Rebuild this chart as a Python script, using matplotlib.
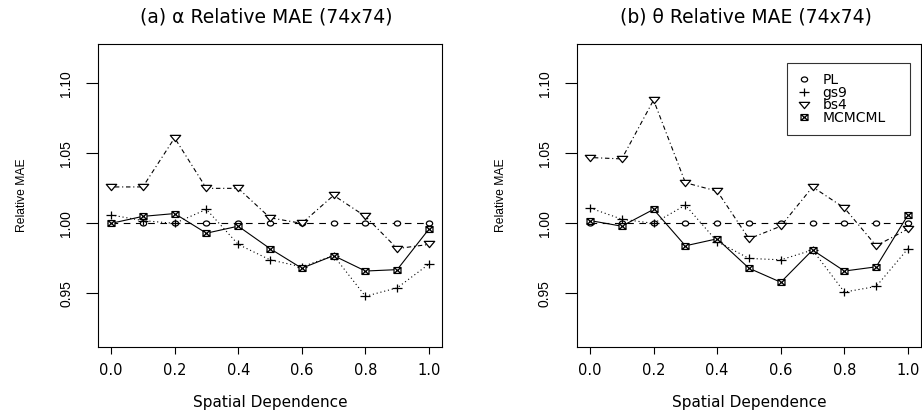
import matplotlib
matplotlib.use('Agg')
import matplotlib.pyplot as plt
from matplotlib.path import Path

plt.rcParams['font.family'] = ['DejaVu Sans']

# Dados
dependencia = [0.0, 0.1, 0.2, 0.3, 0.4, 0.5, 0.6, 0.7, 0.8, 0.9, 1.0]

alpha_pl = [1.0] * 11
alpha_gs9 = [1.006, 1.002, 1.000, 1.010, 0.985, 0.974, 0.969, 0.977, 0.948, 0.954, 0.971]
alpha_bs4 = [1.026, 1.026, 1.061, 1.025, 1.025, 1.004, 1.000, 1.020, 1.005, 0.982, 0.985]
alpha_mcmcml = [1.000, 1.005, 1.007, 0.993, 0.998, 0.982, 0.968, 0.977, 0.966, 0.967, 0.996]

theta_pl = [1.0] * 11
theta_gs9 = [1.011, 1.003, 1.000, 1.013, 0.987, 0.975, 0.974, 0.981, 0.951, 0.955, 0.982]
theta_bs4 = [1.047, 1.046, 1.088, 1.029, 1.023, 0.989, 0.998, 1.026, 1.011, 0.984, 0.996]
theta_mcmcml = [1.002, 0.998, 1.010, 0.984, 0.989, 0.968, 0.958, 0.981, 0.966, 0.969, 1.006]

metodos = ['PL', 'gs9', 'bs4', 'MCMCML']

# marcadores um pouco achatados, como no grafico original
circulo = Path.unit_circle().transformed(matplotlib.transforms.Affine2D().scale(1, 0.8))
mais = Path([(-1, 0), (1, 0), (0, -0.9), (0, 0.9)],
            [Path.MOVETO, Path.LINETO, Path.MOVETO, Path.LINETO])
triangulo = Path([(-1, 0.6), (1, 0.6), (0, -0.6), (-1, 0.6)],
                 [Path.MOVETO, Path.LINETO, Path.LINETO, Path.CLOSEPOLY])
quadrado_x = Path(
    [(-1, -0.85), (1, -0.85), (1, 0.85), (-1, 0.85), (-1, -0.85),
     (-1, -0.85), (1, 0.85), (-1, 0.85), (1, -0.85)],
    [Path.MOVETO, Path.LINETO, Path.LINETO, Path.LINETO, Path.CLOSEPOLY,
     Path.MOVETO, Path.LINETO, Path.MOVETO, Path.LINETO])

estilos = {
    'PL': dict(marker=circulo, ms=4.5, dashes=(6, 5)),
    'gs9': dict(marker=mais, ms=6.5, dashes=(1, 2.5)),
    'bs4': dict(marker=triangulo, ms=7.5, dashes=(1, 2.5, 4, 2.5)),
    'MCMCML': dict(marker=quadrado_x, ms=5, dashes=None),
}

fig = plt.figure(figsize=(9.22, 4.13), dpi=100)
ax1 = fig.add_axes([0.1066, 0.1605, 0.3725, 0.733])
ax2 = fig.add_axes([0.6261, 0.1605, 0.3725, 0.733])


def painel(ax, series, titulo, legenda=False):
    # linhas primeiro, depois os pontos com fundo branco (tipo "b" do R)
    for nome, y in zip(metodos, series):
        e = estilos[nome]
        linha, = ax.plot(dependencia, y, color='black', lw=0.8, zorder=2)
        if e['dashes'] is not None:
            linha.set_dashes(e['dashes'])
    handles = []
    for k, (nome, y) in enumerate(zip(metodos, series)):
        e = estilos[nome]
        h, = ax.plot(dependencia, y, linestyle='none', marker=e['marker'], ms=e['ms'],
                     mfc='white', mec='black', mew=0.9, zorder=3 + k, label=nome)
        handles.append(h)
    ax.set_xlim(-0.04, 1.04)
    ax.set_ylim(0.912, 1.128)
    ax.set_xticks([0.0, 0.2, 0.4, 0.6, 0.8, 1.0])
    ax.set_xticklabels(['0.0', '0.2', '0.4', '0.6', '0.8', '1.0'], fontsize=10.5)
    ax.set_yticks([0.95, 1.00, 1.05, 1.10])
    ax.set_yticklabels(['0.95', '1.00', '1.05', '1.10'], fontsize=10, rotation=90,
                       va='center', family='Liberation Sans')
    ax.tick_params(axis='x', length=5, width=0.8, pad=6.5)
    ax.tick_params(axis='y', length=8.4, width=0.8, pad=9.8)
    for s in ax.spines.values():
        s.set_linewidth(0.8)
    ax.text(0.49, 1.088, titulo, transform=ax.transAxes, ha='center', va='center',
            fontsize=13.5)
    ax.set_xlabel('Spatial Dependence', fontsize=11, va='center')
    ax.xaxis.set_label_coords(0.5, -0.183)
    ax.set_ylabel('Relative MAE', fontsize=8.7, va='center', family='Liberation Sans')
    ax.yaxis.set_label_coords(-0.223, 0.5)
    if legenda:
        leg = ax.legend(handles=handles, loc='upper left', bbox_to_anchor=(0.611, 0.938, 0.359, 0),
                        mode='expand', fontsize=10, frameon=True, fancybox=False,
                        edgecolor='black', handlelength=1.0, handletextpad=0.8,
                        borderpad=0.75, labelspacing=-0.1, borderaxespad=0)
        leg.get_frame().set_linewidth(0.8)


painel(ax1, [alpha_pl, alpha_gs9, alpha_bs4, alpha_mcmcml], '(a) α Relative MAE (74x74)')
painel(ax2, [theta_pl, theta_gs9, theta_bs4, theta_mcmcml], '(b) θ Relative MAE (74x74)', legenda=True)

fig.savefig('out.png', dpi=100)
